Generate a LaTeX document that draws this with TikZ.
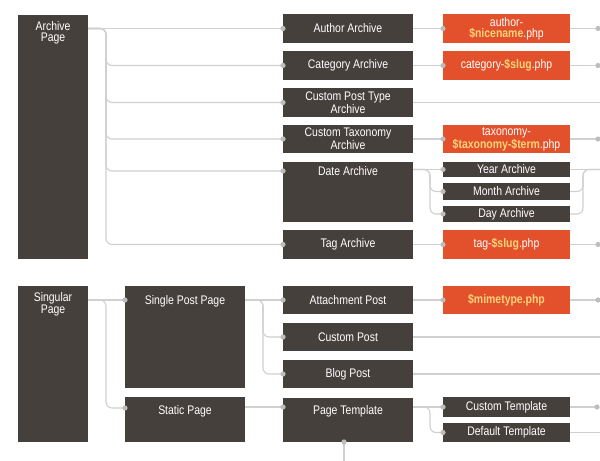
\documentclass[tikz,border=0pt]{standalone}
\usepackage{fontspec}
\setmainfont{Liberation Sans}[FakeStretch=0.84]
\usetikzlibrary{calc}
\definecolor{boxc}{HTML}{46403D}
\definecolor{orng}{HTML}{E2512B}
\definecolor{linec}{HTML}{D0D0D0}
\definecolor{dotc}{HTML}{BDBDBD}
\definecolor{yel}{HTML}{FFD27A}
\newcommand\varpart[1]{\textbf{\textcolor{yel}{#1}}}
\begin{document}
\begin{tikzpicture}[x=1bp,y=-1bp,
  dbox/.style={fill=boxc, inner sep=0pt, outer sep=0pt, text=white, align=center,
    font=\fontsize{12.5}{11}\selectfont, anchor=north west},
  obox/.style={dbox, fill=orng},
  tlab/.style={anchor=north, text=white, align=center, inner sep=0pt,
    font=\fontsize{12.5}{11}\selectfont},
  conn/.style={draw=linec, line width=1.1bp, rounded corners=6bp},
  pin/.style={fill=dotc}]
\useasboundingbox[fill=white] (0,0) rectangle (600,461);

% ---------- Archive section ----------
\node[dbox, minimum width=70bp, minimum height=244bp,
  label={[tlab, label distance=-6bp]north:Archive\\Page}] (archive) at (18,15) {};
\node[dbox, minimum width=130bp, minimum height=29bp] (author) at (283,14) {Author Archive};
\node[dbox, minimum width=130bp, minimum height=29bp] (category) at (283,51) {Category Archive};
\node[dbox, minimum width=130bp, minimum height=29bp] (cpt) at (283,88) {Custom Post Type\\Archive};
\node[dbox, minimum width=130bp, minimum height=28bp] (ctax) at (283,125) {Custom Taxonomy\\Archive};
\node[dbox, minimum width=130bp, minimum height=60bp,
  label={[tlab, label distance=-4bp]north:Date Archive}] (date) at (283,162) {};
\node[dbox, minimum width=130bp, minimum height=29bp] (tag) at (283,230) {Tag Archive};

\node[obox, minimum width=127bp, minimum height=29bp] (authorphp) at (443,14) {author-\\\varpart{\$nicename}.php};
\node[obox, minimum width=127bp, minimum height=29bp] (catphp) at (443,51) {category-\varpart{\$slug}.php};
\node[obox, minimum width=127bp, minimum height=28bp] (taxphp) at (443,125) {taxonomy-\\\varpart{\$taxonomy-\$term}.php};
\node[dbox, minimum width=127bp, minimum height=15bp] (year) at (443,162) {Year Archive};
\node[dbox, minimum width=127bp, minimum height=17bp] (month) at (443,183) {Month Archive};
\node[dbox, minimum width=127bp, minimum height=16bp] (day) at (443,206) {Day Archive};
\node[obox, minimum width=127bp, minimum height=29bp] (tagphp) at (443,230) {tag-\varpart{\$slug}.php};

% ---------- Singular section ----------
\node[dbox, minimum width=70bp, minimum height=156bp,
  label={[tlab, label distance=-6bp]north:Singular\\Page}] (singular) at (18,286) {};
\node[dbox, minimum width=120bp, minimum height=102bp,
  label={[tlab, label distance=-9bp]north:Single Post Page}] (single) at (125,286) {};
\node[dbox, minimum width=120bp, minimum height=45bp,
  label={[tlab, label distance=-8bp]north:Static Page}] (static) at (125,397) {};
\node[dbox, minimum width=130bp, minimum height=28bp] (attach) at (283,286) {Attachment Post};
\node[dbox, minimum width=130bp, minimum height=28bp] (custompost) at (283,323) {Custom Post};
\node[dbox, minimum width=130bp, minimum height=28bp] (blog) at (283,360) {Blog Post};
\node[dbox, minimum width=130bp, minimum height=44bp,
  label={[tlab, label distance=-7bp]north:Page Template}] (pagetpl) at (283,398) {};
\node[obox, minimum width=127bp, minimum height=28bp] (mime) at (443,286) {\varpart{\$mimetype.php}};
\node[dbox, minimum width=127bp, minimum height=20bp] (ctpl) at (443,397) {Custom Template};
\node[dbox, minimum width=127bp, minimum height=19bp] (dtpl) at (443,423) {Default Template};

% ---------- coordinates ----------
\coordinate (aout) at (archive.east |- author.west);
\coordinate (atr) at ($(aout)+(18,0)$);
\coordinate (datein) at ($(date.north west)+(0,9)$);
\coordinate (dout) at (date.east |- year.west);
\coordinate (dtr) at ($(dout)+(17,0)$);
\coordinate (ymerge) at ($(year.east)+(13,0)$);
\coordinate (yend) at ($(year.east)+(30,0)$);
\coordinate (sin) at ($(single.north west)+(0,14)$);
\coordinate (sout) at (singular.east |- sin);
\coordinate (str) at ($(sout)+(18,0)$);
\coordinate (statin) at ($(static.north west)+(0,11)$);
\coordinate (spout) at (single.east |- attach.west);
\coordinate (sptr) at ($(spout)+(18,0)$);
\coordinate (ptin) at ($(pagetpl.north west)+(0,9)$);
\coordinate (ptout) at (pagetpl.east |- ctpl.west);
\coordinate (pttr) at ($(ptout)+(17,0)$);
\coordinate (pbot) at ($(pagetpl.south)+(-4,0)$);
\coordinate (pdown) at ($(pbot)+(0,25)$);
\coordinate (aphpout) at ($(authorphp.east)+(28,0)$);
\coordinate (cphpout) at ($(catphp.east)+(28,0)$);
\coordinate (tphpout) at ($(taxphp.east)+(28,0)$);
\coordinate (tgphpout) at ($(tagphp.east)+(28,0)$);
\coordinate (mout) at ($(mime.east)+(28,0)$);
\coordinate (ctout) at ($(ctpl.east)+(27,0)$);
\coordinate (cptout) at ($(cpt.east)+(190,0)$);
\coordinate (cpout) at ($(custompost.east)+(190,0)$);
\coordinate (bout) at ($(blog.east)+(190,0)$);
\coordinate (dtout) at ($(dtpl.east)+(30,0)$);

% ---------- connectors ----------
\draw[conn] (aout) -- (author.west);
\foreach \t in {category, cpt, ctax, datein, tag}
  \draw[conn] (aout) -- (atr) |- (\t.west);
\draw[conn] (author.east) -- (authorphp.west);
\draw[conn] (category.east) -- (catphp.west);
\draw[conn] (ctax.east) -- (taxphp.west);
\draw[conn] (tag.east) -- (tagphp.west);
\draw[conn] (cpt.east) -- (cptout);
\draw[conn] (dout) -- (year.west);
\draw[conn] (dout) -- (dtr) |- (month.west);
\draw[conn] (dout) -- (dtr) |- (day.west);
\draw[conn] (year.east) -- (yend);
\draw[conn] (month.east) -| (ymerge) -- (yend);
\draw[conn] (day.east) -| (ymerge) -- (yend);
\draw[conn] (authorphp.east) -- (aphpout);
\draw[conn] (catphp.east) -- (cphpout);
\draw[conn] (taxphp.east) -- (tphpout);
\draw[conn] (tagphp.east) -- (tgphpout);

\draw[conn] (sout) -- (sin);
\draw[conn] (sout) -- (str) |- (statin);
\draw[conn] (spout) -- (attach.west);
\draw[conn] (spout) -- (sptr) |- (custompost.west);
\draw[conn] (spout) -- (sptr) |- (blog.west);
\draw[conn] (static.east |- ptin) -- (ptin);
\draw[conn] (attach.east) -- (mime.west);
\draw[conn] (custompost.east) -- (cpout);
\draw[conn] (blog.east) -- (bout);
\draw[conn] (ptout) -- (ctpl.west);
\draw[conn] (ptout) -- (pttr) |- (dtpl.west);
\draw[conn] (mime.east) -- (mout);
\draw[conn] (ctpl.east) -- (ctout);
\draw[conn] (dtpl.east) -- (dtout);
\draw[conn] (pbot) -- (pdown);

% ---------- dots ----------
\foreach \p in {author.west, category.west, cpt.west, ctax.west, datein, tag.west,
  authorphp.west, catphp.west, taxphp.west, tagphp.west, year.west, month.west, day.west,
  aphpout, cphpout, tphpout, tgphpout,
  sin, statin, attach.west, custompost.west, blog.west, ptin, mime.west,
  ctpl.west, dtpl.west, mout, ctout, pbot}
  \fill[pin] (\p) circle (2.6bp);
\end{tikzpicture}
\end{document}
